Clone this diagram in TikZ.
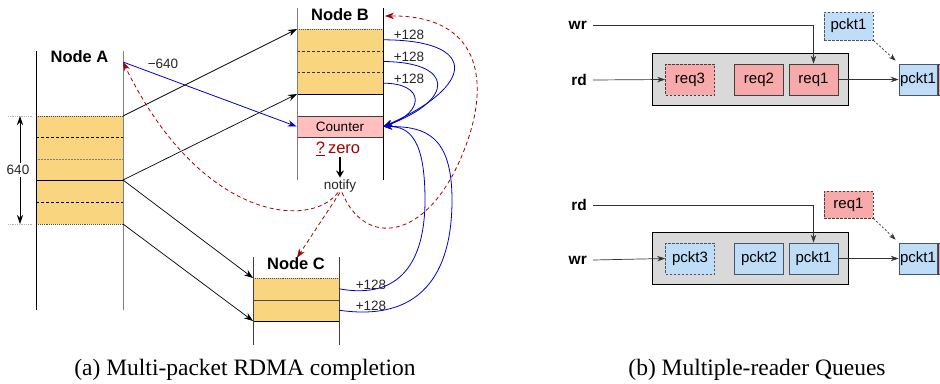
\documentclass[tikz,border=0pt]{standalone}
\usepackage{fontspec}
\setmainfont{Liberation Serif}
\setsansfont{Liberation Sans}
\usetikzlibrary{arrows.meta,calc}
\definecolor{slotfill}{HTML}{F9D57F}
\definecolor{ctrfill}{HTML}{FFBFBF}
\definecolor{reqfill}{HTML}{F8A9A9}
\definecolor{pktfill}{HTML}{BFDDF7}
\definecolor{pktedge}{HTML}{45556A}
\definecolor{queuebg}{HTML}{D9D9D9}
\definecolor{darkred}{HTML}{A50000}
\definecolor{wireblue}{HTML}{0000CC}
\begin{document}
\begin{tikzpicture}[x=1pt,y=-1pt,
  font=\sffamily\fontsize{13.5}{15}\selectfont,
  buf/.style={fill=slotfill, draw=none, minimum width=87pt, inner sep=0pt, outer sep=0pt},
  nodelbl/.style={font=\sffamily\bfseries\fontsize{16.5}{18}\selectfont, inner sep=0pt},
  small/.style={font=\sffamily\fontsize{13.5}{15}\selectfont, inner sep=0pt, text=black!85},
  blk/.style={black, line width=0.7pt, -{Stealth[length=9pt,width=6.5pt]}},
  bl/.style={wireblue, line width=0.8pt, -{Stealth[length=9pt,width=6.5pt]}},
  rdash/.style={darkred, line width=0.8pt, dash pattern=on 4pt off 3pt, -{Stealth[length=9pt,width=6.5pt]}},
  sep/.style={black, line width=0.6pt, dash pattern=on 3pt off 2pt},
  qbox/.style={draw=black!75, line width=0.7pt, minimum width=49pt, minimum height=31pt, inner sep=0pt,
    font=\sffamily\fontsize{15}{17}\selectfont},
  qreq/.style={qbox, fill=reqfill},
  qpkt/.style={qbox, fill=pktfill, draw=pktedge},
  ghost/.style={dash pattern=on 2.5pt off 1.5pt},
  qcont/.style={fill=queuebg, draw=black, line width=0.7pt, minimum width=196pt, minimum height=52pt, inner sep=0pt},
  qlbl/.style={font=\sffamily\bfseries\fontsize{15.5}{17}\selectfont, inner sep=0pt, anchor=east},
  qline/.style={black!80, line width=0.7pt, -{Stealth[length=8pt,width=5.5pt]}},
  qhint/.style={black!80, line width=0.7pt, dash pattern=on 2pt off 2pt, -{Stealth[length=7pt,width=5pt]}},
  caption/.style={font=\rmfamily\fontsize{23.5}{26}\selectfont, inner sep=0pt, anchor=base}
]
\useasboundingbox (0,0) rectangle (940,383);
\clip (0,0) rectangle (940,383);

% ---------------- (a) RDMA completion ----------------
% Node A: source buffer of 640 bytes, split into 3 + 2 packets
\node[buf, minimum height=64pt] (aup) at (79.5,148) {};
\node[buf, minimum height=44pt] (alow) at (79.5,202) {};
\draw[black!70, densely dotted, line width=0.9pt] (aup.north west) -- (aup.north east);
\draw[black!70, densely dotted, line width=0.9pt] (alow.south west) -- (alow.south east);
\draw[black, line width=0.8pt] (aup.south west) -- (aup.south east);
\draw[sep] (36,137) -- (123,137);
\draw[gray, line width=0.5pt, densely dotted] (36,159) -- (123,159);
\draw[sep] (36,202) -- (123,202);
\draw[black, line width=0.8pt] (36,51) -- (36,310);
\draw[gray, line width=1pt] (123,51) -- (123,310);
\node[nodelbl] (nA) at (79.5,57) {Node A};
\coordinate (atop) at (123,62);

% size marker
\draw[gray!60, densely dotted, line width=0.8pt] (8,116) -- (33,116);
\draw[gray!60, densely dotted, line width=0.8pt] (8,224) -- (33,224);
\draw[black, line width=0.8pt, {Stealth[length=9pt,width=6pt]}-{Stealth[length=9pt,width=6pt]}] (20,116) -- (20,224);
\node[small, fill=white, inner sep=2pt] (sz) at (18,170) {640};

% Node B: three slots and a counter
\node[buf, minimum width=86pt, minimum height=65pt] (bbuf) at (340,61.5) {};
\draw[black!70, densely dotted, line width=0.9pt] (bbuf.north west) -- (bbuf.north east);
\draw[black, line width=0.8pt] (bbuf.south west) -- (bbuf.south east);
\draw[sep, black!80] (297,51) -- (383,51);
\draw[sep, black!80] (297,72) -- (383,72);
\node[fill=ctrfill, draw=black!75, line width=0.8pt, minimum width=86pt, minimum height=21pt, inner sep=0pt,
      font=\sffamily\fontsize{13.5}{15}\selectfont] (counter) at (340,126.5) {Counter};
\draw[gray, line width=1pt] (297,8) -- (297,180);
\draw[black, line width=0.8pt] (383,8) -- (383,180);
\node[nodelbl] (nB) at (340,15) {Node B};
\coordinate (btop) at (385,16);
\node[inner sep=0pt, text=darkred, font=\sffamily\fontsize{16.5}{18}\selectfont] (zero) at (338,149) {\underline{?}\kern3pt zero};
\node[small] (notify) at (340,186) {notify};
\draw[black, line width=1.6pt, -{Stealth[length=7pt,width=8pt]}] (notify.north |- zero.south) ++(0,1) -- ([yshift=2pt]notify.north);

% Node C: two slots
\node[buf, minimum width=86pt, minimum height=43pt] (cbuf) at (296,299.5) {};
\draw[black!70, densely dotted, line width=0.9pt] (cbuf.north west) -- (cbuf.north east);
\draw[black!70, line width=0.7pt] (253,300) -- (339,300);
\draw[black, line width=0.8pt] (cbuf.south west) -- (cbuf.south east);
\draw[black!75, line width=0.8pt] (253,257) -- (253,345);
\draw[black!75, line width=0.8pt] (339,257) -- (339,345);
\node[nodelbl] (nC) at (296,264) {Node C};

% data transfers
\draw[blk] (aup.north east) -- (bbuf.north west);
\draw[blk] (aup.south east) -- (bbuf.south west);
\draw[blk] (alow.north east) -- (cbuf.north west);
\draw[blk] (alow.south east) -- (cbuf.south west);

% counter updates
\draw[bl] (atop) -- (counter.west);
\node[small] (m640) at (163,64) {−640};
\coordinate (b1) at ($(bbuf.north east)+(0,10.8)$);
\coordinate (b2) at ($(bbuf.north east)+(0,32.5)$);
\coordinate (b3) at ($(bbuf.north east)+(0,54.2)$);
\draw[bl] (b1) .. controls (480,40) and (475,86) .. (counter.east);
\draw[bl] (b2) .. controls (455,62) and (455,100) .. (counter.east);
\draw[bl] (b3) .. controls (425,83) and (425,112) .. (counter.east);
\node[small] (p1) at (409,35) {+128};
\node[small] (p2) at (409,57) {+128};
\node[small] (p3) at (409,79) {+128};
\coordinate (c1) at ($(cbuf.north east)+(0,10.8)$);
\coordinate (c2) at ($(cbuf.south east)+(0,-10.8)$);
\draw[bl] (c1) .. controls (400,300) and (425,262) .. (425,200) .. controls (425,140) and (410,126.5) .. (counter.east);
\draw[bl] (c2) .. controls (420,322) and (452,275) .. (452,200) .. controls (452,135) and (425,126.5) .. (counter.east);
\node[small] (p4) at (371,285) {+128};
\node[small] (p5) at (371,306) {+128};

% completion notifications
\draw[rdash] ([xshift=-2pt]notify.south) .. controls (310,230) and (200,220) .. (atop);
\draw[rdash] (notify.south) -- ([xshift=1pt]nC.north);
\draw[rdash] ([xshift=2pt]notify.south) .. controls (365,248) and (425,240) .. (460,160) .. controls (492,88) and (485,15) .. (btop);

\node[caption] (capA) at (245,375) {(a) Multi-packet RDMA completion};

% ---------------- (b) multiple-reader queues ----------------
% queue holding read requests
\node[qlbl] (wr1) at (587,25) {wr};
\node[qlbl] (rd1) at (587,80) {rd};
\node[qcont] (q1) at (750,79) {};
\node[qreq, ghost] (r3) at (690,79.5) {req3};
\node[qreq] (r2) at (759,79.5) {req2};
\node[qreq] (r1) at (813.5,79.5) {req1};
\node[qpkt, minimum width=38pt] (o1) at (918,79.5) {pckt1};
\node[qreq, anchor=west, minimum width=40pt] (n1) at (938,79.5) {};
\node[qpkt, ghost, minimum height=28pt] (w1) at (848.5,26) {pckt1};
\draw[qline] ([xshift=6pt]wr1.east) -| (r1.north);
\draw[qline] ([xshift=6pt]rd1.east) -- (r3.west);
\draw[qline] (r1.east) -- (o1.west);
\draw[qhint] (w1.south east) -- ([shift={(-3pt,3pt)}]o1.north west);

% queue holding packets
\node[qlbl] (rd2) at (587,205) {rd};
\node[qlbl] (wr2) at (587,260) {wr};
\node[qcont] (q2) at (750,258.5) {};
\node[qpkt, ghost] (k3) at (690,258.5) {pckt3};
\node[qpkt] (k2) at (759,258.5) {pckt2};
\node[qpkt] (k1) at (813.5,258.5) {pckt1};
\node[qpkt, minimum width=38pt] (o2) at (918,258.5) {pckt1};
\node[qreq, anchor=west, minimum width=40pt] (n2) at (938,258.5) {};
\node[qreq, ghost, minimum height=27pt] (w2) at (848.5,204.5) {req1};
\draw[qline] ([xshift=6pt]rd2.east) -| (k1.north);
\draw[qline] ([xshift=6pt]wr2.east) -- (k3.west);
\draw[qline] (k1.east) -- (o2.west);
\draw[qhint] (w2.south east) -- ([shift={(-3pt,3pt)}]o2.north west);

\node[caption] (capB) at (757,375) {(b) Multiple-reader Queues};
\end{tikzpicture}
\end{document}
